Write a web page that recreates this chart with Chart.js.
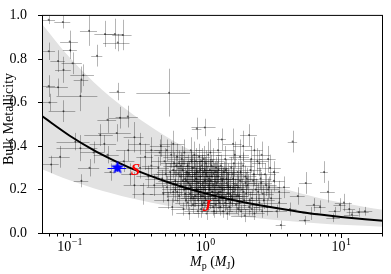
<!DOCTYPE html>
<html><head><meta charset="utf-8">
<script src="https://cdn.jsdelivr.net/npm/chart.js@4/dist/chart.umd.min.js"></script>
<style>html,body{margin:0;padding:0;background:#fff}canvas{display:block}</style>
</head><body>
<canvas id="c" width="391" height="274"></canvas>
<script>
// ---- sparse high-metallicity planets ----
const massA=[0.070,0.089,0.139,0.182,0.215,0.246,0.100,0.226,0.101,0.070,0.159,0.082,0.090,0.126,0.122,0.070,0.082,0.54,0.226,0.120,0.090,0.190,0.235,0.268,0.168,0.222,0.99,1.32,0.865,4.4,0.30,0.33,0.40,0.071,0.105];
const zA=[0.98,0.97,0.93,0.915,0.915,0.91,0.88,0.875,0.84,0.835,0.815,0.79,0.75,0.725,0.705,0.675,0.67,0.645,0.65,0.63,0.56,0.52,0.53,0.535,0.45,0.46,0.485,0.43,0.48,0.42,0.44,0.41,0.38,0.60,0.78];
const dMassA=[0.008,0.012,0.020,0.030,0.035,0.040,0.015,0.050,0.012,0.008,0.015,0.010,0.012,0.025,0.015,0.008,0.015,0.23,0.030,0.040,0.020,0.030,0.040,0.050,0.040,0.060,0.20,0.10,0.07,0.35,0.05,0.06,0.08,0.010,0.018];
const dZA=[0.02,0.03,0.07,0.06,0.07,0.07,0.05,0.04,0.04,0.04,0.05,0.05,0.06,0.05,0.06,0.05,0.04,0.11,0.04,0.07,0.05,0.06,0.05,0.05,0.05,0.04,0.04,0.05,0.05,0.05,0.07,0.05,0.06,0.04,0.05];
// ---- low-mass planets ----
const massB=[0.073,0.122,0.12,0.15,0.11,0.19,0.25,0.28,0.20,0.30,0.33,0.35,0.18,0.27,0.38,0.085,0.14,0.40,0.36];
const zB=[0.315,0.24,0.39,0.37,0.42,0.36,0.33,0.27,0.28,0.22,0.30,0.18,0.41,0.38,0.26,0.35,0.30,0.31,0.35];
const dMassB=[0.010,0.015,0.04,0.03,0.03,0.04,0.05,0.04,0.02,0.05,0.08,0.06,0.04,0.05,0.07,0.015,0.025,0.06,0.05];
const dZB=[0.04,0.03,0.06,0.05,0.04,0.04,0.05,0.05,0.04,0.06,0.05,0.05,0.04,0.05,0.05,0.05,0.04,0.05,0.06];
// ---- massive planets ----
const massC=[7.5,5.5,8.0,9.8,10.5,13.5,6.3,5.4,8.8,11.5,3.8,4.8,6.0,3.5,15.0,4.2,3.2,2.5,1.8,7.0,3.6,9.0,12.0];
const zC=[0.28,0.23,0.19,0.13,0.14,0.095,0.13,0.058,0.07,0.11,0.21,0.17,0.09,0.14,0.10,0.11,0.28,0.32,0.35,0.12,0.037,0.10,0.085];
const dMassC=[0.5,0.6,1.0,1.0,1.5,2.5,0.8,0.5,1.0,1.2,0.4,0.6,0.8,0.5,2.0,0.5,0.3,0.3,0.3,0.7,0.3,0.9,1.5];
const dZC=[0.05,0.05,0.05,0.03,0.04,0.02,0.03,0.02,0.02,0.03,0.05,0.04,0.03,0.04,0.02,0.03,0.05,0.06,0.08,0.03,0.02,0.02,0.02];
// ---- dense cluster ----
const massD=[0.45,0.48,0.50,0.52,0.55,0.56,0.58,0.60,0.61,0.63,0.64,0.66,0.67,0.68,0.70,0.71,0.72,0.74,0.75,0.76,0.77,0.78,0.79,0.80,0.81,0.82,0.83,0.84,0.85,0.86,0.87,0.88,0.89,0.90,0.91,0.92,0.93,0.94,0.95,0.96,0.97,0.98,0.99,1.00,1.01,1.02,1.03,1.04,1.05,1.06,1.08,1.09,1.10,1.12,1.13,1.14,1.15,1.17,1.18,1.20,1.21,1.23,1.24,1.25,1.27,1.28,1.30,1.32,1.33,1.35,1.37,1.38,1.40,1.42,1.44,1.46,1.48,1.50,1.52,1.55,1.57,1.60,1.62,1.65,1.68,1.70,1.73,1.76,1.80,1.83,1.86,1.90,1.93,1.97,2.00,2.05,2.10,2.15,2.20,2.25,2.30,2.35,2.42,2.50,2.58,2.65,2.75,2.85,2.95,3.05,3.20,3.35,3.50];
const zD=[0.30,0.25,0.33,0.21,0.28,0.36,0.19,0.24,0.31,0.27,0.17,0.22,0.34,0.29,0.20,0.25,0.15,0.31,0.23,0.27,0.18,0.38,0.21,0.26,0.13,0.30,0.24,0.17,0.33,0.20,0.28,0.15,0.23,0.35,0.19,0.26,0.11,0.31,0.22,0.17,0.28,0.14,0.24,0.20,0.32,0.09,0.26,0.18,0.36,0.22,0.29,0.15,0.24,0.19,0.33,0.12,0.27,0.21,0.16,0.30,0.23,0.18,0.38,0.26,0.14,0.21,0.31,0.17,0.24,0.10,0.28,0.20,0.34,0.15,0.23,0.18,0.27,0.12,0.21,0.30,0.16,0.25,0.19,0.36,0.13,0.22,0.28,0.17,0.24,0.10,0.20,0.31,0.15,0.26,0.18,0.22,0.12,0.29,0.16,0.24,0.09,0.20,0.33,0.14,0.23,0.18,0.27,0.12,0.21,0.16,0.24,0.10,0.19];
const dMassD=[0.09,0.12,0.10,0.15,0.11,0.14,0.10,0.15,0.12,0.20,0.12,0.16,0.14,0.12,0.15,0.18,0.13,0.16,0.20,0.12,0.15,0.17,0.22,0.14,0.16,0.19,0.15,0.14,0.22,0.16,0.18,0.14,0.21,0.19,0.16,0.20,0.15,0.22,0.18,0.16,0.24,0.18,0.20,0.18,0.35,0.20,0.21,0.18,0.25,0.20,0.23,0.20,0.26,0.21,0.24,0.20,0.23,0.26,0.20,0.28,0.24,0.22,0.40,0.25,0.22,0.27,0.30,0.24,0.27,0.25,0.30,0.26,0.32,0.27,0.29,0.28,0.31,0.28,0.30,0.33,0.30,0.33,0.30,0.45,0.32,0.35,0.37,0.34,0.37,0.35,0.38,0.40,0.38,0.41,0.40,0.42,0.40,0.45,0.44,0.46,0.44,0.48,0.50,0.50,0.52,0.54,0.56,0.56,0.60,0.60,0.64,0.66,0.70];
const dZD=[0.05,0.04,0.06,0.05,0.04,0.06,0.05,0.05,0.05,0.04,0.04,0.05,0.06,0.05,0.04,0.05,0.04,0.05,0.05,0.06,0.04,0.06,0.05,0.04,0.04,0.05,0.05,0.05,0.06,0.04,0.05,0.04,0.05,0.06,0.04,0.05,0.04,0.05,0.05,0.04,0.05,0.04,0.05,0.05,0.06,0.03,0.05,0.04,0.06,0.05,0.05,0.04,0.05,0.04,0.06,0.04,0.05,0.05,0.04,0.05,0.05,0.04,0.06,0.05,0.04,0.05,0.05,0.04,0.05,0.03,0.05,0.04,0.06,0.04,0.05,0.04,0.05,0.04,0.05,0.05,0.04,0.05,0.04,0.06,0.04,0.05,0.05,0.04,0.05,0.03,0.05,0.06,0.04,0.05,0.04,0.05,0.04,0.05,0.04,0.05,0.03,0.05,0.06,0.04,0.05,0.04,0.05,0.04,0.05,0.04,0.05,0.03,0.05];
const massE=[0.53,0.57,0.62,0.65,0.69,0.73,0.76,0.80,0.83,0.86,0.89,0.92,0.95,0.98,1.01,1.04,1.07,1.11,1.15,1.19,1.22,1.26,1.31,1.36,1.41,1.47,1.53,1.59,1.66,1.74,1.82,1.91,2.02,2.12,2.28,2.45,2.62,2.80,3.00,0.42,0.46,0.49,0.51,0.59,0.70,0.74,0.79,0.88,0.97,1.09,1.16,1.29,1.45,1.62,1.78,1.95,2.18,2.38,2.70];
const zE=[0.15,0.12,0.35,0.26,0.11,0.28,0.09,0.20,0.36,0.25,0.18,0.29,0.13,0.21,0.27,0.14,0.20,0.31,0.22,0.13,0.28,0.19,0.25,0.16,0.29,0.21,0.14,0.27,0.20,0.11,0.28,0.19,0.25,0.15,0.27,0.19,0.10,0.22,0.30,0.22,0.37,0.18,0.27,0.32,0.37,0.14,0.33,0.10,0.34,0.37,0.10,0.12,0.09,0.32,0.14,0.08,0.34,0.13,0.15];
const dMassE=[0.11,0.12,0.13,0.14,0.13,0.15,0.15,0.17,0.18,0.17,0.19,0.18,0.20,0.21,0.22,0.20,0.23,0.24,0.22,0.25,0.26,0.24,0.28,0.27,0.30,0.29,0.32,0.31,0.34,0.35,0.38,0.37,0.42,0.40,0.46,0.48,0.52,0.55,0.60,0.09,0.10,0.10,0.11,0.12,0.15,0.14,0.16,0.18,0.20,0.23,0.24,0.27,0.30,0.33,0.36,0.40,0.44,0.48,0.55];
const dZE=[0.04,0.04,0.06,0.05,0.03,0.05,0.03,0.05,0.06,0.05,0.04,0.05,0.04,0.05,0.05,0.04,0.05,0.05,0.05,0.04,0.05,0.04,0.05,0.04,0.05,0.05,0.04,0.05,0.05,0.03,0.05,0.04,0.05,0.04,0.05,0.04,0.03,0.05,0.06,0.05,0.06,0.04,0.05,0.05,0.06,0.04,0.05,0.03,0.06,0.06,0.03,0.04,0.03,0.06,0.04,0.03,0.06,0.04,0.04];
const massF=[0.55,0.58,0.62,0.64,0.68,0.71,0.73,0.77,0.80,0.82,0.85,0.87,0.90,0.93,0.96,0.99,1.02,1.05,1.08,1.12,1.16,1.20,1.25,1.30,1.35,1.40,1.46,1.52,1.60,1.70,0.60,0.66,0.72,0.78,0.84,0.91,0.94,1.00,1.06,1.13,1.18,1.24,1.33,1.43,1.56,1.75,1.98,2.20,2.55,2.90];
const zF=[0.23,0.29,0.19,0.32,0.24,0.18,0.27,0.22,0.30,0.16,0.25,0.20,0.28,0.17,0.23,0.29,0.15,0.24,0.20,0.26,0.17,0.22,0.29,0.19,0.25,0.14,0.22,0.18,0.21,0.17,0.20,0.31,0.24,0.16,0.27,0.21,0.33,0.16,0.25,0.19,0.28,0.15,0.20,0.25,0.17,0.21,0.23,0.11,0.25,0.20];
const dMassF=[0.12,0.13,0.14,0.13,0.15,0.14,0.16,0.15,0.18,0.16,0.19,0.17,0.20,0.18,0.21,0.22,0.20,0.23,0.22,0.24,0.23,0.26,0.25,0.28,0.27,0.30,0.29,0.32,0.33,0.36,0.12,0.14,0.15,0.16,0.18,0.19,0.20,0.22,0.21,0.24,0.25,0.26,0.28,0.30,0.33,0.37,0.42,0.45,0.52,0.60];
const dZF=[0.05,0.04,0.05,0.06,0.05,0.04,0.05,0.05,0.06,0.04,0.05,0.04,0.05,0.04,0.05,0.06,0.04,0.05,0.05,0.05,0.04,0.05,0.06,0.04,0.05,0.04,0.05,0.04,0.05,0.04,0.05,0.06,0.05,0.04,0.05,0.05,0.06,0.04,0.05,0.04,0.05,0.04,0.05,0.05,0.04,0.05,0.05,0.03,0.05,0.05];
const massG=[1.9,2.3,2.6,1.6,2.1,2.9,0.47,0.52,0.58];
const zG=[0.40,0.38,0.36,0.41,0.45,0.34,0.40,0.38,0.41];
const dMassG=[0.3,0.35,0.4,0.25,0.3,0.4,0.08,0.1,0.12];
const dZG=[0.07,0.06,0.06,0.07,0.05,0.06,0.05,0.05,0.06];

// ---- model relation and its spread ----
const modelMass=[0.0625,0.1,0.15,0.2,0.3,0.5,0.7,1,1.5,2,3,5,7,10,15,20.4];
const modelZ=[0.537,0.447,0.381,0.341,0.291,0.239,0.209,0.182,0.155,0.139,0.119,0.097,0.085,0.074,0.063,0.056];
const bandUpper=[0.961,0.806,0.694,0.625,0.540,0.448,0.395,0.345,0.294,0.262,0.224,0.183,0.160,0.140,0.120,0.107];
const bandLower=[0.293,0.242,0.206,0.184,0.156,0.127,0.111,0.097,0.082,0.073,0.062,0.051,0.044,0.038,0.033,0.029];

// ---- highlighted objects ----
const starMass=[0.225], starZ=[0.30], starMassErr=[0.035], starZErr=[0.018];
const labelNames=['S','J'], labelMass=[0.306,1.03], labelZ=[0.289,0.12];

// ---- axes ----
const xMajorTicks=[0.1,1,10], xMajorExp=['\u22121','0','1'];
const xMinorTicks=[0.07,0.08,0.09,0.2,0.3,0.4,0.5,0.6,0.7,0.8,0.9,2,3,4,5,6,7,8,9,20];
const yTicks=[0,0.2,0.4,0.6,0.8,1.0];

const SERIF="'Liberation Serif','Times New Roman',Times,serif";
Chart.defaults.font.family=SERIF;

const allMass=[...massA,...massB,...massC,...massD,...massE,...massF,...massG];
const allZ=[...zA,...zB,...zC,...zD,...zE,...zF,...zG];
const allDM=[...dMassA,...dMassB,...dMassC,...dMassD,...dMassE,...dMassF,...dMassG];
const allDZ=[...dZA,...dZB,...dZC,...dZD,...dZE,...dZF,...dZG];
const nP=Math.min(allMass.length,allZ.length,allDM.length,allDZ.length);
const planetPts=[];for(let i=0;i<nP;i++)planetPts.push({x:allMass[i],y:allZ[i],dx:allDM[i],dy:allDZ[i]});

function pairs(xs,ys){return xs.map((x,i)=>({x:x,y:ys[i]}));}

function makeStar(r){const s=Math.ceil(r*2+2);const c=document.createElement('canvas');c.width=s;c.height=s;const g=c.getContext('2d');g.translate(s/2,s/2);g.beginPath();for(let i=0;i<10;i++){const rr=i%2?r*0.42:r;const a=-Math.PI/2+i*Math.PI/5;g.lineTo(rr*Math.cos(a),rr*Math.sin(a));}g.closePath();g.fillStyle='#0000ff';g.fill();return c;}
const starImg=makeStar(7);

function drawErrBars(chart,pts,color){
  const xs=chart.scales.x, ys=chart.scales.y, ctx=chart.ctx, a=chart.chartArea;
  ctx.save();ctx.beginPath();ctx.rect(a.left,a.top,a.right-a.left,a.bottom-a.top);ctx.clip();
  ctx.strokeStyle=color;ctx.lineWidth=1;
  pts.forEach(p=>{
    const px=Math.round(xs.getPixelForValue(p.x))+0.5, py=Math.round(ys.getPixelForValue(p.y))+0.5;
    const x1=xs.getPixelForValue(Math.max(p.x-p.dx,1e-3)), x2=xs.getPixelForValue(p.x+p.dx);
    const y1=ys.getPixelForValue(p.y-p.dy), y2=ys.getPixelForValue(p.y+p.dy);
    ctx.beginPath();ctx.moveTo(x1,py);ctx.lineTo(x2,py);ctx.stroke();
    ctx.beginPath();ctx.moveTo(px,y1);ctx.lineTo(px,y2);ctx.stroke();
  });
  ctx.restore();
}

const deco={
  id:'deco',
  beforeDatasetDraw(chart,args){
    const ds=chart.data.datasets[args.index];
    if(ds.label==='planets')drawErrBars(chart,planetPts,'rgba(0,0,0,0.29)');
    if(ds.label==='star')drawErrBars(chart,[{x:starMass[0],y:starZ[0],dx:starMassErr[0],dy:starZErr[0]}],'#0000ff');
  },
  afterDatasetsDraw(chart){
    const ctx=chart.ctx,xs=chart.scales.x,ys=chart.scales.y;
    ctx.save();ctx.fillStyle='#ff0000';ctx.font='bold italic 17px '+SERIF;ctx.textAlign='center';ctx.textBaseline='middle';
    labelNames.forEach((t,i)=>ctx.fillText(t,xs.getPixelForValue(labelMass[i]),ys.getPixelForValue(labelZ[i])));
    ctx.restore();
  },
  afterDraw(chart){
    const ctx=chart.ctx,a=chart.chartArea,xs=chart.scales.x,ys=chart.scales.y;
    ctx.save();
    ctx.strokeStyle='#000';ctx.lineWidth=1;
    ctx.beginPath();
    ctx.moveTo(a.left+0.5,a.top);ctx.lineTo(a.left+0.5,a.bottom+1);
    ctx.moveTo(a.left,a.bottom+0.5);ctx.lineTo(a.right,a.bottom+0.5);
    ctx.moveTo(a.right-0.5,a.top);ctx.lineTo(a.right-0.5,a.bottom+1);
    ctx.moveTo(a.left,a.top);ctx.lineTo(a.right,a.top);
    ctx.stroke();
    ctx.beginPath();
    xMajorTicks.forEach(v=>{const p=Math.round(xs.getPixelForValue(v))+0.5;ctx.moveTo(p,a.bottom+1);ctx.lineTo(p,a.bottom+5);});
    xMinorTicks.forEach(v=>{const p=Math.round(xs.getPixelForValue(v))+0.5;ctx.moveTo(p,a.bottom+1);ctx.lineTo(p,a.bottom+3.5);});
    yTicks.forEach(v=>{const p=Math.round(ys.getPixelForValue(v))+0.5;ctx.moveTo(a.left,p);ctx.lineTo(a.left-4,p);});
    ctx.stroke();
    ctx.fillStyle='#000';ctx.textBaseline='alphabetic';ctx.textAlign='left';
    xMajorTicks.forEach((v,i)=>{
      const p=xs.getPixelForValue(v);
      ctx.font='14px '+SERIF;const w1=ctx.measureText('10').width;
      ctx.font='10px '+SERIF;const w2=ctx.measureText(xMajorExp[i]).width;
      const x0=p-(w1+w2)/2;
      ctx.font='14px '+SERIF;ctx.fillText('10',x0,251);
      ctx.font='10px '+SERIF;ctx.fillText(xMajorExp[i],x0+w1+0.5,245);
    });
    const parts=[['M','italic 14px ',0],['p','10px ',3],[' (','14px ',0],['M','italic 14px ',0],['J','10px ',3],[')','14px ',0]];
    let tw=0;parts.forEach(q=>{ctx.font=q[1]+SERIF;tw+=ctx.measureText(q[0]).width;});
    let cx=(a.left+a.right)/2-tw/2;
    parts.forEach(q=>{ctx.font=q[1]+SERIF;ctx.fillText(q[0],cx,266+q[2]);cx+=ctx.measureText(q[0]).width;});
    ctx.translate(12.5,119);ctx.rotate(-Math.PI/2);ctx.textAlign='center';ctx.font='14px '+SERIF;ctx.fillText('Bulk Metallicity',0,0);
    ctx.restore();
  }
};

new Chart(document.getElementById('c'),{
  type:'scatter',
  data:{datasets:[
    {label:'bandUpper',type:'line',data:pairs(modelMass,bandUpper),borderWidth:0,pointRadius:0,fill:'+1',backgroundColor:'#e2e2e2',cubicInterpolationMode:'monotone',order:10},
    {label:'bandLower',type:'line',data:pairs(modelMass,bandLower),borderWidth:0,pointRadius:0,fill:false,cubicInterpolationMode:'monotone',order:9},
    {label:'planets',data:planetPts,pointRadius:1,pointBorderWidth:0,pointBackgroundColor:'rgba(0,0,0,0.55)',order:5},
    {label:'model',type:'line',data:pairs(modelMass,modelZ),borderColor:'#000',borderWidth:2,pointRadius:0,fill:false,cubicInterpolationMode:'monotone',order:3},
    {label:'star',data:pairs(starMass,starZ),pointStyle:starImg,pointRadius:7,order:1}
  ]},
  options:{
    responsive:false,animation:false,devicePixelRatio:1,
    layout:{padding:{top:5,right:3,left:0,bottom:0}},
    plugins:{legend:{display:false},tooltip:{enabled:false}},
    scales:{
      x:{type:'logarithmic',min:0.0625,max:20.4,grid:{display:false},border:{display:false},ticks:{display:false},afterFit:s=>{s.height=41;}},
      y:{type:'linear',min:0,max:1,grid:{display:false},border:{display:false},
         ticks:{stepSize:0.2,padding:7,color:'#000',font:{size:14,family:SERIF},callback:v=>v.toFixed(1)},
         afterFit:s=>{s.width=42;}}
    }
  },
  plugins:[deco]
});
</script>
</body></html>
